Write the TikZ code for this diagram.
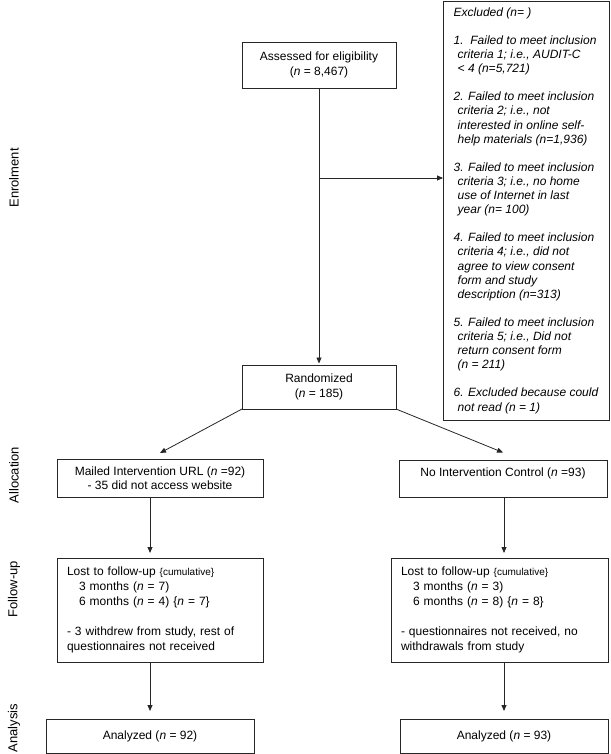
\documentclass[tikz,border=0pt]{standalone}
\usepackage{fontspec}
\setmainfont{Liberation Sans}
\usetikzlibrary{arrows.meta}
\begin{document}
\begin{tikzpicture}[x=1pt,y=-1pt,
  box/.style={draw=black!85, line width=0.8pt, inner sep=0pt, outer sep=0pt, align=center, font=\fontsize{12}{14.5}\selectfont},
  lostbox/.style={box, align=left, inner xsep=10pt, font=\fontsize{12}{15}\selectfont},
  arr/.style={draw=black!85, line width=0.8pt, -{Triangle[length=6pt,width=5pt]}},
  phase/.style={rotate=90, font=\fontsize{13}{15}\selectfont}]
\useasboundingbox (0,0) rectangle (610,754);

% phase labels
\node[phase] (penrol) at (14,178) {Enrolment};
\node[phase] (palloc) at (14,475) {Allocation};
\node[phase] (pfollow) at (14,589) {Follow-up};
\node[phase] (panaly) at (14,728) {Analysis};

% enrolment
\node[box, minimum width=154pt, minimum height=46pt] (assess) at (319,65)
  {Assessed for eligibility\\(\textit{n} = 8,467)};
\node[box, minimum width=154pt, minimum height=44pt] (rand) at (319,387)
  {Randomized\\(\textit{n} = 185)};
\node[box, align=left, minimum width=166pt, minimum height=419pt,
      font=\fontsize{12}{14.1}\selectfont\itshape] (excl) at (526,210.5)
  {Excluded (n= )\\
   ~\\
   1.\ \ Failed to meet inclusion\\
   \hspace*{4pt}criteria 1; i.e., AUDIT-C\\
   \hspace*{4pt}< 4 (n=5,721)\\
   ~\\
   2. Failed to meet inclusion\\
   \hspace*{4pt}criteria 2; i.e., not\\
   \hspace*{4pt}interested in online self-\\
   \hspace*{4pt}help materials (n=1,936)\\
   ~\\
   3. Failed to meet inclusion\\
   \hspace*{4pt}criteria 3; i.e., no home\\
   \hspace*{4pt}use of Internet in last\\
   \hspace*{4pt}year (n= 100)\\
   ~\\
   4. Failed to meet inclusion\\
   \hspace*{4pt}criteria 4; i.e., did not\\
   \hspace*{4pt}agree to view consent\\
   \hspace*{4pt}form and study\\
   \hspace*{4pt}description (n=313)\\
   ~\\
   5. Failed to meet inclusion\\
   \hspace*{4pt}criteria 5; i.e., Did not\\
   \hspace*{4pt}return consent form\\
   \hspace*{4pt}(n = 211)\\
   ~\\
   6. Excluded because could\\
   \hspace*{4pt}not read (n = 1)};

% allocation
\node[box, minimum width=206pt, minimum height=38pt] (mailed) at (160,478)
  {Mailed Intervention URL (\textit{n} =92)\\- 35 did not access website};
\node[box, minimum width=208pt, minimum height=37pt] (noint) at (503,479)
  {No Intervention Control (\textit{n} =93)\\~};

% follow-up
\node[lostbox, text width=186pt, minimum height=104pt] (lostL) at (160,610)
  {Lost to follow-up {\fontsize{10}{12}\selectfont\{cumulative\}}\\
   \hspace*{12pt}3 months (\textit{n} = 7)\\
   \hspace*{12pt}6 months (\textit{n} = 4) \{\textit{n} = 7\}\\
   ~\\
   - 3 withdrew from study, rest of\\
   questionnaires not received};
\node[lostbox, text width=197pt, minimum height=104pt] (lostR) at (499.5,610)
  {Lost to follow-up {\fontsize{10}{12}\selectfont\{cumulative\}}\\
   \hspace*{12pt}3 months (\textit{n} = 3)\\
   \hspace*{12pt}6 months (\textit{n} = 8) \{\textit{n} = 8\}\\
   ~\\
   - questionnaires not received, no\\
   withdrawals from study};

% analysis
\node[box, minimum width=208pt, minimum height=34pt] (analL) at (150,736)
  {Analyzed (\textit{n} = 92)};
\node[box, minimum width=208pt, minimum height=34pt] (analR) at (504,736)
  {Analyzed (\textit{n} = 93)};

% connectors
\coordinate (branch) at (319,178);
\draw[arr, shorten >=1.5pt] (assess.south) -- (rand.north);
\draw[arr] (branch) -- (branch -| excl.west);
\draw[arr] (rand.south west) -- ([yshift=6pt]mailed.north);
\draw[arr] (rand.south east) -- ([yshift=8pt]noint.north);
\draw[arr, shorten >=5pt] (mailed.south -| analL.north) -- (lostL.north -| analL.north);
\draw[arr, shorten >=8pt] (lostL.south -| analL.north) -- (analL.north);
\draw[arr, shorten >=5pt] (noint.south -| analR.north) -- (lostR.north -| analR.north);
\draw[arr, shorten >=8pt] (lostR.south -| analR.north) -- (analR.north);
\end{tikzpicture}
\end{document}
